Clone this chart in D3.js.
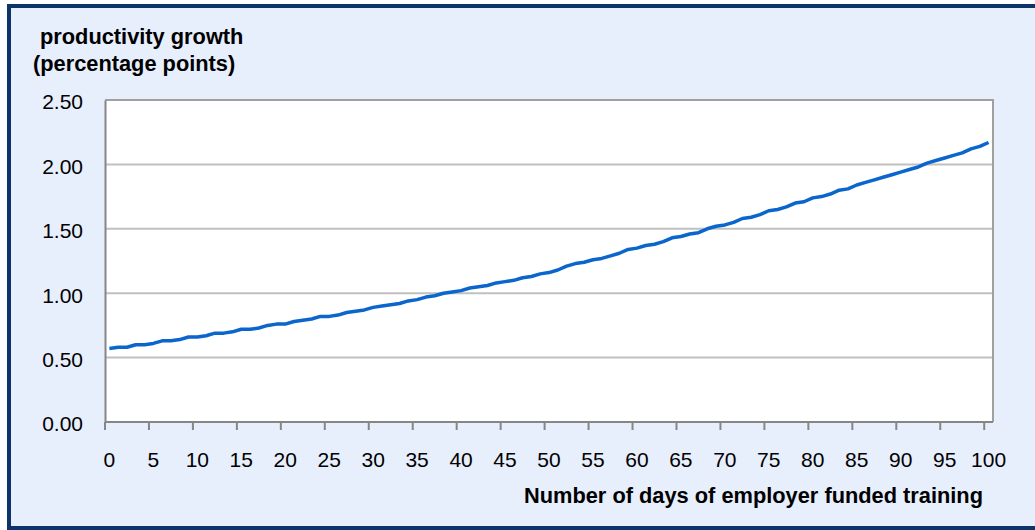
<!DOCTYPE html>
<html>
<head>
<meta charset="utf-8">
<script src="https://cdn.jsdelivr.net/npm/d3@7"></script>
<style>
  body { margin: 0; background: #fff; }
  text { font-family: "Liberation Sans", Arial, sans-serif; fill: #000; }
</style>
</head>
<body>
<script>
// days of training (categories)
const days = d3.range(0, 101);

// productivity growth, percentage points
const growth = [
  0.57, 0.58, 0.58, 0.60, 0.60, 0.61, 0.63, 0.63, 0.64, 0.66,
  0.66, 0.67, 0.69, 0.69, 0.70, 0.72, 0.72, 0.73, 0.75, 0.76,
  0.76, 0.78, 0.79, 0.80, 0.82, 0.82, 0.83, 0.85, 0.86, 0.87,
  0.89, 0.90, 0.91, 0.92, 0.94, 0.95, 0.97, 0.98, 1.00, 1.01,
  1.02, 1.04, 1.05, 1.06, 1.08, 1.09, 1.10, 1.12, 1.13, 1.15,
  1.16, 1.18, 1.21, 1.23, 1.24, 1.26, 1.27, 1.29, 1.31, 1.34,
  1.35, 1.37, 1.38, 1.40, 1.43, 1.44, 1.46, 1.47, 1.50, 1.52,
  1.53, 1.55, 1.58, 1.59, 1.61, 1.64, 1.65, 1.67, 1.70, 1.71,
  1.74, 1.75, 1.77, 1.80, 1.81, 1.84, 1.86, 1.88, 1.90, 1.92,
  1.94, 1.96, 1.98, 2.01, 2.03, 2.05, 2.07, 2.09, 2.12, 2.14,
  2.17
];

const yTicks = [0, 0.5, 1, 1.5, 2, 2.5];
const xTickDays = d3.range(0, 101, 5);

const W = 1035, H = 530;
const plot = {left: 105, right: 993, top: 100, bottom: 422};

const svg = d3.select("body").append("svg")
    .attr("width", W)
    .attr("height", H);

// outer frame
svg.append("rect")
    .attr("x", 9).attr("y", 6)
    .attr("width", 1040).attr("height", 522)
    .attr("fill", "#E7EEFC")
    .attr("stroke", "#0C3468")
    .attr("stroke-width", 4);

const x = d3.scaleBand()
    .domain(days)
    .range([plot.left, plot.right])
    .padding(0);

const y = d3.scaleLinear()
    .domain([0, 2.5])
    .range([plot.bottom, plot.top]);

// plot area
svg.append("rect")
    .attr("x", plot.left).attr("y", plot.top)
    .attr("width", plot.right - plot.left)
    .attr("height", plot.bottom - plot.top)
    .attr("fill", "#fff");

// gridlines
svg.append("g")
    .selectAll("line")
    .data(yTicks.filter(d => d > 0 && d < 2.5))
    .enter().append("line")
    .attr("x1", plot.left).attr("x2", plot.right)
    .attr("y1", d => y(d)).attr("y2", d => y(d))
    .attr("stroke", "#C0C0C0")
    .attr("stroke-width", 2);

// plot border (top / right)
svg.append("path")
    .attr("d", "M" + plot.left + "," + plot.top + "H" + plot.right + "V" + plot.bottom)
    .attr("fill", "none")
    .attr("stroke", "#A0A0A0")
    .attr("stroke-width", 2);

// y axis
const yAxis = svg.append("g")
    .attr("transform", "translate(" + plot.left + ",0)")
    .call(d3.axisLeft(y).tickValues(yTicks).tickSize(0).tickPadding(22)
        .tickFormat(d3.format(".2f")));
yAxis.select(".domain").attr("stroke", "#868686").attr("stroke-width", 2);
yAxis.selectAll("text")
    .attr("font-size", 21)
    .attr("font-family", "Liberation Sans, Arial, sans-serif")
    .attr("dy", "0.42em");

// x axis: ticks on category boundaries, labels on category centres
const xg = svg.append("g");
xg.append("line")
    .attr("x1", plot.left).attr("x2", plot.right)
    .attr("y1", plot.bottom).attr("y2", plot.bottom)
    .attr("stroke", "#868686")
    .attr("stroke-width", 2);
xg.selectAll(".tick")
    .data(xTickDays)
    .enter().append("line")
    .attr("x1", d => x(d)).attr("x2", d => x(d))
    .attr("y1", plot.bottom).attr("y2", plot.bottom + 8)
    .attr("stroke", "#868686")
    .attr("stroke-width", 2);
xg.selectAll("text")
    .data(xTickDays)
    .enter().append("text")
    .attr("x", d => x(d) + x.bandwidth() / 2)
    .attr("y", 467)
    .attr("text-anchor", "middle")
    .attr("font-size", 21)
    .text(d => d);

// line
const line = d3.line()
    .x((d, i) => x(days[i]) + x.bandwidth() / 2)
    .y(d => y(d));

svg.append("path")
    .datum(growth)
    .attr("d", line)
    .attr("fill", "none")
    .attr("stroke", "#0A66CC")
    .attr("stroke-width", 3.5)
    .attr("stroke-linejoin", "round");

// titles
svg.append("text")
    .attr("x", 40).attr("y", 44)
    .attr("font-size", 21.8)
    .attr("font-weight", "bold")
    .text("productivity growth");
svg.append("text")
    .attr("x", 33).attr("y", 71)
    .attr("font-size", 21.8)
    .attr("font-weight", "bold")
    .text("(percentage points)");
svg.append("text")
    .attr("x", 983).attr("y", 503)
    .attr("text-anchor", "end")
    .attr("font-size", 21.8)
    .attr("font-weight", "bold")
    .text("Number of days of employer funded training");
</script>
</body>
</html>
